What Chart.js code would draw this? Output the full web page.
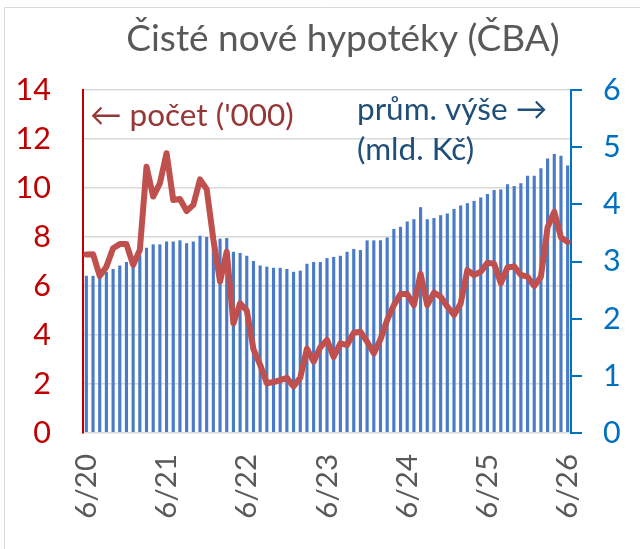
<!DOCTYPE html>
<html>
<head>
<meta charset="utf-8">
<script src="https://cdn.jsdelivr.net/npm/chart.js@4.4.1/dist/chart.umd.min.js"></script>
<style>
    html, body { margin: 0; padding: 0; background: #ffffff; }
    #wrap { width: 640px; height: 549px; position: relative; }
</style>
</head>
<body>
<div id="wrap"><canvas id="mortgageChart"></canvas></div>
<script>
// Monthly categories 6/20 .. 6/26
const months = [
    '6/20','7/20','8/20','9/20','10/20','11/20','12/20','1/21','2/21','3/21','4/21','5/21',
    '6/21','7/21','8/21','9/21','10/21','11/21','12/21','1/22','2/22','3/22','4/22','5/22',
    '6/22','7/22','8/22','9/22','10/22','11/22','12/22','1/23','2/23','3/23','4/23','5/23',
    '6/23','7/23','8/23','9/23','10/23','11/23','12/23','1/24','2/24','3/24','4/24','5/24',
    '6/24','7/24','8/24','9/24','10/24','11/24','12/24','1/25','2/25','3/25','4/25','5/25',
    '6/25','7/25','8/25','9/25','10/25','11/25','12/25','1/26','2/26','3/26','4/26','5/26',
    '6/26'
];

// Labels shown on the x axis
const tickLabels = ['6/20', '6/21', '6/22', '6/23', '6/24', '6/25', '6/26'];

// Number of new mortgages ('000), left axis
const countValues = [
    7.29, 7.30, 6.41, 6.79, 7.54, 7.71, 7.71, 6.86, 7.47, 10.87, 9.65, 10.19,
    11.42, 9.51, 9.55, 9.06, 9.31, 10.35, 9.95, 7.90, 6.18, 7.40, 4.48, 5.29,
    5.00, 3.42, 2.78, 2.03, 2.08, 2.16, 2.25, 1.90, 2.26, 3.44, 2.91, 3.50,
    3.80, 3.10, 3.66, 3.59, 4.09, 4.13, 3.73, 3.25, 3.82, 4.61, 5.22, 5.67,
    5.67, 5.22, 6.49, 5.22, 5.73, 5.56, 5.16, 4.82, 5.29, 6.65, 6.45, 6.58,
    6.95, 6.91, 6.11, 6.76, 6.80, 6.45, 6.38, 6.00, 6.38, 8.40, 9.03, 7.98,
    7.80
];

// Average mortgage size (mld. Kč), right axis
const avgValues = [
    2.75, 2.75, 2.78, 2.82, 2.87, 2.93, 2.99, 3.03, 3.11, 3.24, 3.30, 3.30,
    3.35, 3.35, 3.37, 3.32, 3.35, 3.45, 3.43, 3.38, 3.40, 3.41, 3.17, 3.15,
    3.10, 3.01, 2.93, 2.91, 2.89, 2.89, 2.87, 2.82, 2.84, 2.96, 2.99, 2.99,
    3.06, 3.08, 3.10, 3.17, 3.22, 3.20, 3.37, 3.37, 3.37, 3.42, 3.57, 3.61,
    3.70, 3.74, 3.95, 3.74, 3.76, 3.81, 3.84, 3.92, 3.98, 4.02, 4.06, 4.12,
    4.18, 4.25, 4.26, 4.35, 4.32, 4.37, 4.50, 4.50, 4.63, 4.80, 4.88, 4.85,
    4.68
];

const FONT = 'Lato, "Noto Sans", sans-serif';

// Title, annotations and frame drawn on the canvas
const decorPlugin = {
    id: 'decor',
    beforeDraw(chart) {
        const ctx = chart.ctx;
        ctx.save();
        ctx.fillStyle = '#ffffff';
        ctx.fillRect(0, 0, chart.width, chart.height);
        ctx.strokeStyle = '#d9d9d9';
        ctx.lineWidth = 1;
        ctx.beginPath();
        ctx.moveTo(4.5, chart.height);
        ctx.lineTo(4.5, 7.5);
        ctx.lineTo(chart.width, 7.5);
        ctx.stroke();
        ctx.restore();
    },
    afterDraw(chart) {
        const ctx = chart.ctx;
        ctx.save();
        ctx.textBaseline = 'alphabetic';

        ctx.font = '37px ' + FONT;
        ctx.fillStyle = '#595959';
        ctx.textAlign = 'center';
        ctx.fillText('Čisté nové hypotéky (ČBA)', 343, 51);

        ctx.font = '31.5px ' + FONT;
        ctx.textAlign = 'left';
        ctx.fillStyle = '#953735';
        ctx.fillText('← počet (\'000)', 90, 126);

        ctx.fillStyle = '#1f4e79';
        ctx.fillText('prům. výše →', 357, 120);
        ctx.fillText('(mld. Kč)', 357, 160);
        ctx.restore();
    }
};

const ctx = document.getElementById('mortgageChart').getContext('2d');
const mortgageChart = new Chart(ctx, {
    type: 'bar',
    data: {
        labels: months,
        datasets: [{
            type: 'line',
            label: "počet ('000)",
            data: countValues,
            yAxisID: 'y',
            borderColor: '#c0504d',
            borderWidth: 6,
            borderJoinStyle: 'round',
            borderCapStyle: 'round',
            pointRadius: 0,
            tension: 0,
            order: 0
        }, {
            type: 'bar',
            label: 'prům. výše (mld. Kč)',
            data: avgValues,
            yAxisID: 'y1',
            backgroundColor: '#4a7bc6',
            barPercentage: 0.47,
            categoryPercentage: 1,
            order: 1
        }]
    },
    options: {
        responsive: true,
        maintainAspectRatio: false,
        animation: false,
        layout: {
            padding: { top: 90, left: 0, right: 0, bottom: 0 }
        },
        plugins: {
            legend: { display: false },
            tooltip: { enabled: false }
        },
        scales: {
            x: {
                type: 'category',
                offset: true,
                grid: { display: false, drawTicks: false },
                border: { display: false },
                ticks: {
                    autoSkip: false,
                    maxRotation: 90,
                    minRotation: 90,
                    padding: 21,
                    color: '#595959',
                    font: { family: FONT, size: 29.5 },
                    callback: function(value) {
                        const lbl = this.getLabelForValue(value);
                        return tickLabels.includes(lbl) ? lbl : null;
                    }
                },
                afterFit: function(scale) { scale.height = 116; }
            },
            y: {
                position: 'left',
                min: 0,
                max: 14,
                grid: {
                    color: '#d9d9d9',
                    lineWidth: 1.5,
                    drawTicks: false
                },
                border: { color: '#c00000', width: 2 },
                ticks: {
                    stepSize: 2,
                    padding: 32,
                    color: '#c00000',
                    font: { family: FONT, size: 30.5 }
                },
                afterFit: function(scale) { scale.width = 83; }
            },
            y1: {
                position: 'right',
                min: 0,
                max: 6,
                grid: {
                    drawOnChartArea: false,
                    color: '#0070c0',
                    lineWidth: 2,
                    tickLength: 11
                },
                border: { color: '#0070c0', width: 2 },
                ticks: {
                    stepSize: 1,
                    padding: 21,
                    color: '#0070c0',
                    font: { family: FONT, size: 30.5 }
                },
                afterFit: function(scale) { scale.width = 69; }
            }
        }
    },
    plugins: [decorPlugin]
});
</script>
</body>
</html>
